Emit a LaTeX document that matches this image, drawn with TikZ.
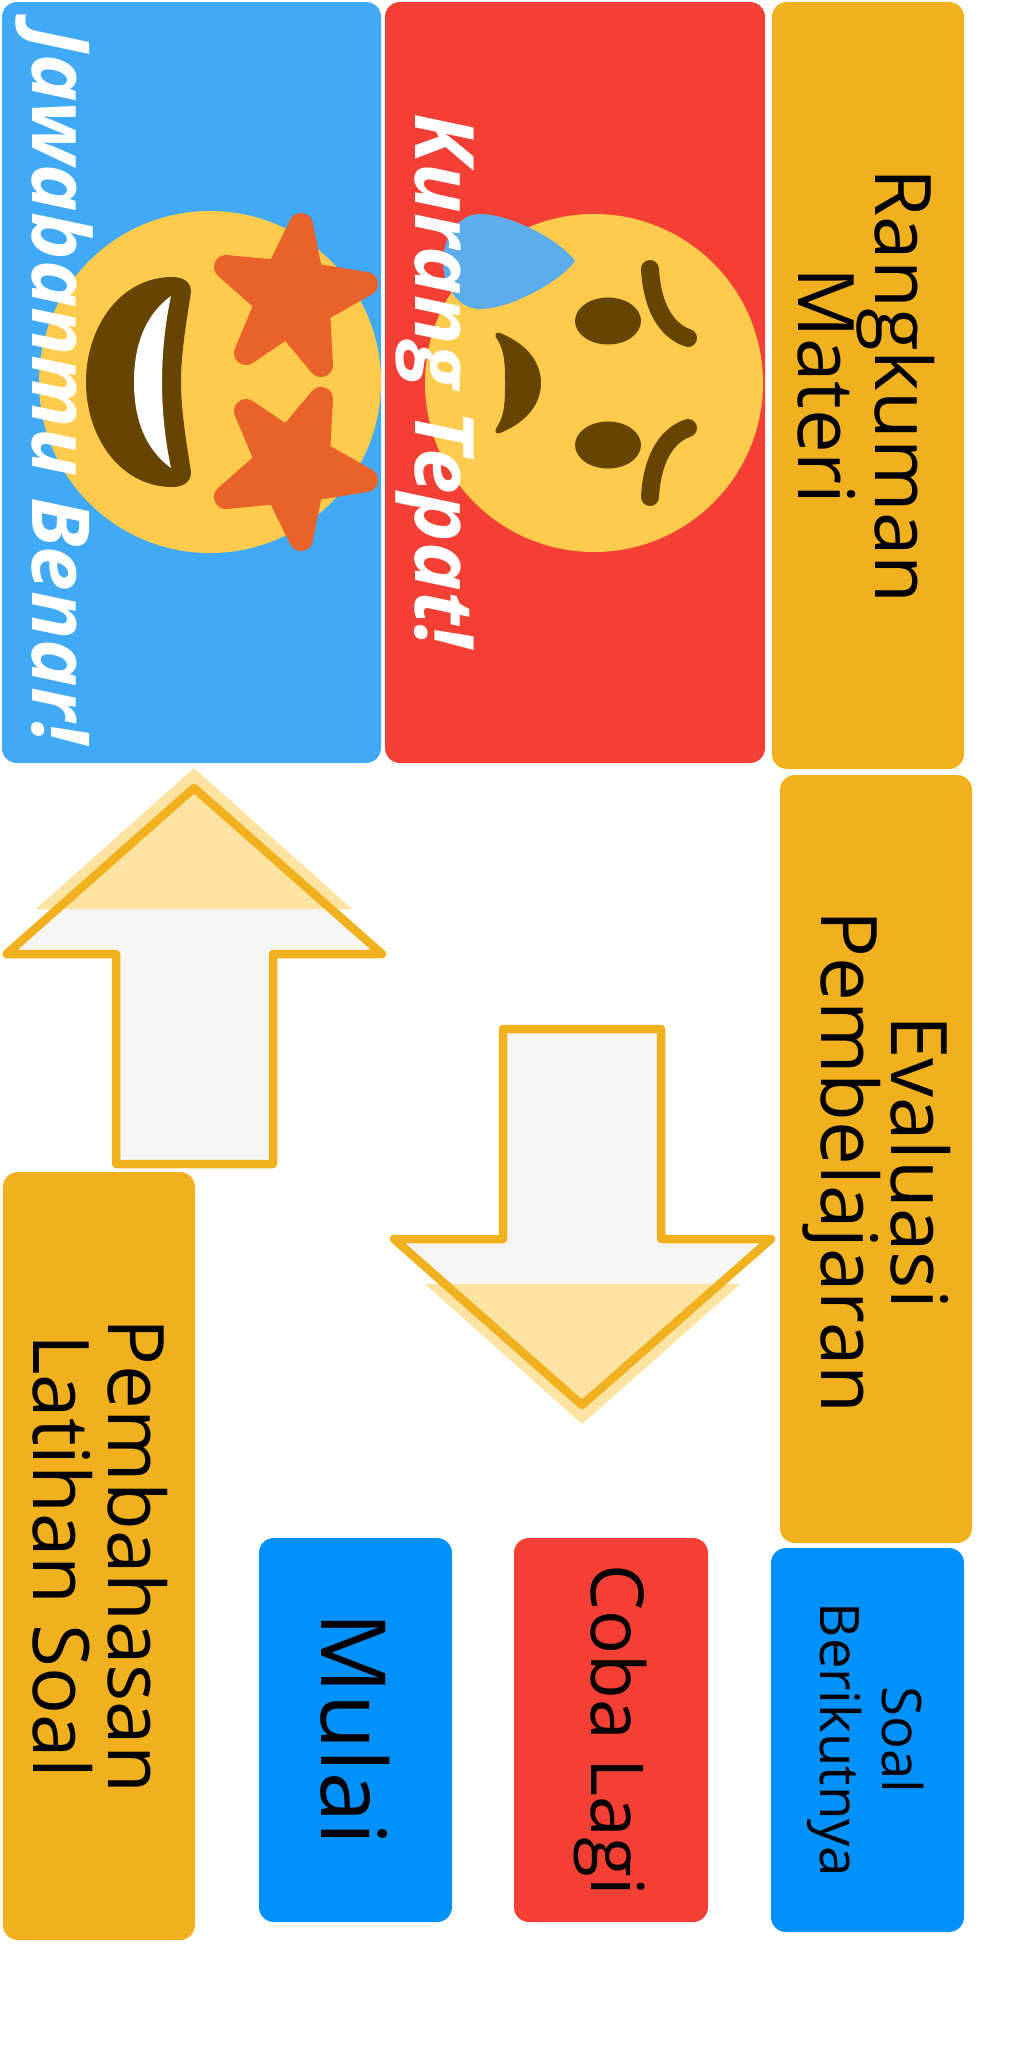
\documentclass[tikz,border=0pt]{standalone}
\usepackage{fontspec}
\setmainfont{Open Sans}
\definecolor{skyb}{HTML}{40A9F8}
\definecolor{redb}{HTML}{F44034}
\definecolor{orab}{HTML}{F1B11E}
\definecolor{blub}{HTML}{0091FB}
\definecolor{shad}{HTML}{FCE3A1}
\definecolor{ligh}{HTML}{F5F5F5}
\definecolor{facec}{HTML}{FFCB4C}
\definecolor{darkc}{HTML}{664500}
\definecolor{starc}{HTML}{E96229}
\definecolor{dropc}{HTML}{5DADEC}
\tikzset{
  panel/.style={inner sep=0pt,outer sep=0pt,rounded corners=15pt},
  boxtext/.style={rotate=-90,align=center,inner sep=0pt,text=black},
  cheer/.style={rotate=-90,inner sep=0pt,text=white},
  arrowline/.style={draw=orab,line width=8.5pt,line join=round},
  starshape/.style={fill=starc,draw=starc,line width=24pt,line join=round},
  brow/.style={draw=darkc,line width=18pt,line cap=round}
}
\newcommand{\fsz}[2]{\fontsize{#1}{#2}\selectfont}
\newcommand{\starpath}{(301,225) -- (311,275) -- (366,284) -- (318,311) -- (321,365) -- (287.5,325) -- (246,353) -- (267,303) -- (226,267) -- (278,272) -- cycle}
\begin{document}
\begin{tikzpicture}[x=1pt,y=-1pt]
\useasboundingbox (0,0) rectangle (1024,2048);
\fill[white] (0,0) rectangle (1024,2048);
% panels
\node[panel,fill=skyb,minimum width=379pt,minimum height=761pt] (benar) at (191.5,382.5) {};
\node[panel,fill=redb,minimum width=380pt,minimum height=761pt] (kurang) at (575,382.5) {};
\node[panel,fill=orab,minimum width=192pt,minimum height=767pt] (rangkuman) at (868,385.5) {};
\node[panel,fill=orab,minimum width=192pt,minimum height=768pt] (evaluasi) at (876,1159) {};
\node[panel,fill=blub,minimum width=193pt,minimum height=384pt] (soal) at (867.5,1740) {};
\node[panel,fill=redb,minimum width=194pt,minimum height=384pt] (coba) at (611,1730) {};
\node[panel,fill=blub,minimum width=193pt,minimum height=384pt] (mulai) at (355.5,1730) {};
\node[panel,fill=orab,minimum width=192pt,minimum height=768pt] (pembahasan) at (99,1556) {};
% up arrow
\fill[ligh] (194,788) -- (382,954) -- (273,954) -- (273,1164) -- (116,1164) -- (116,954) -- (6.5,954) -- cycle;
\fill[shad] (194,768) -- (352,909) -- (36,909) -- cycle;
\draw[arrowline] (194,788) -- (382,954) -- (273,954) -- (273,1164) -- (116,1164) -- (116,954) -- (6.5,954) -- cycle;
% down arrow
\fill[ligh] (503,1029) -- (661,1029) -- (661,1239) -- (771,1239) -- (582,1405) -- (394,1239) -- (503,1239) -- cycle;
\fill[shad] (425,1284) -- (740,1284) -- (582,1424) -- cycle;
\draw[arrowline] (503,1029) -- (661,1029) -- (661,1239) -- (771,1239) -- (582,1405) -- (394,1239) -- (503,1239) -- cycle;
% star-eyed face
\fill[facec] (210,382) circle (171);
\fill[darkc] (191,292) .. controls (191,281) and (182,277) .. (172,277) .. controls (122,277) and (86,325) .. (86,382) .. controls (86,439) and (122,487) .. (172,487) .. controls (182,487) and (191,483) .. (191,472) .. controls (186,440) and (181,410) .. (181,382) .. controls (181,354) and (186,324) .. (191,292) -- cycle;
\fill[white] (171,296) .. controls (145,315) and (134,345) .. (134,382) .. controls (134,419) and (145,449) .. (171,468) .. controls (165,440) and (162,410) .. (162,382) .. controls (162,354) and (165,324) .. (171,296) -- cycle;
\filldraw[starshape] \starpath;
\begin{scope}[shift={(0,764)},yscale=-1]
\filldraw[starshape] \starpath;
\end{scope}
% sad face
\fill[facec] (594,383) circle (169);
\fill[dropc] (575,261) .. controls (560,240) and (510,214) .. (480,214) .. controls (458,214) and (443,238) .. (443,262) .. controls (443,286) and (458,309) .. (480,309) .. controls (510,309) and (560,282) .. (575,261) -- cycle;
\fill[darkc] (608,321) ellipse (33 and 23.5);
\fill[darkc] (608,445) ellipse (33 and 23.5);
\draw[brow] (650,269) .. controls (652,305) and (665,330) .. (688,338);
\draw[brow] (650,497) .. controls (652,461) and (665,436) .. (688,428);
\fill[darkc] (500,333) .. controls (530,345) and (541,365) .. (541,383) .. controls (541,401) and (530,421) .. (500,433) .. controls (495,435) and (494,430) .. (497,427) .. controls (505,415) and (505,400) .. (505,383) .. controls (505,366) and (505,351) .. (497,339) .. controls (494,336) and (495,331) .. (500,333) -- cycle;
% texts
\node[cheer,font=\itshape\bfseries\fsz{80}{82}] (tbenar) at (54,386) {Jawabanmu Benar!};
\node[cheer,font=\itshape\bfseries\fsz{82}{84}] (tkurang) at (435,381) {Kurang Tepat!};
\node[boxtext,font=\fsz{78}{73}] (trangkuman) at (866,386) {Rangkuman\\Materi};
\node[boxtext,font=\fsz{78}{70}] (tevaluasi) at (877,1162) {Evaluasi\\Pembelajaran};
\node[boxtext,font=\fsz{78}{75}] (tpembahasan) at (100,1556) {Pembahasan\\Latihan Soal};
\node[boxtext,font=\fsz{90}{92}] (tmulai) at (355,1729) {Mulai};
\node[boxtext,font=\fsz{73}{75}] (tcoba) at (610,1730) {Coba Lagi};
\node[boxtext,font=\fsz{54.5}{62}] (tsoal) at (866,1740) {Soal\\Berikutnya};
\end{tikzpicture}
\end{document}
